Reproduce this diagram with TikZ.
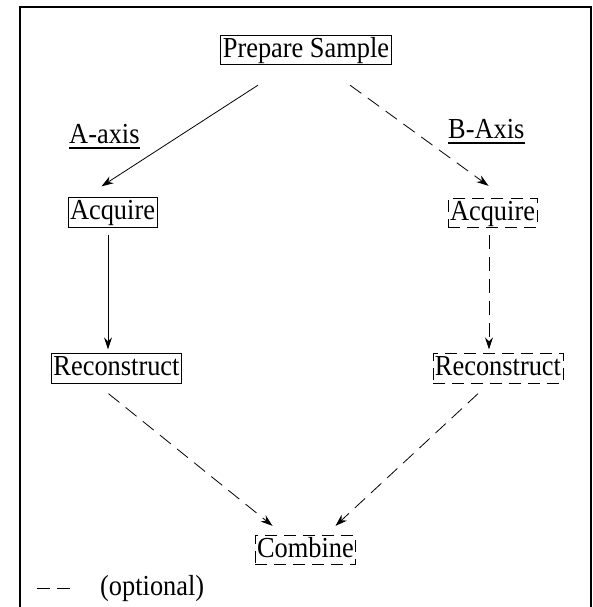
\documentclass[tikz,border=0pt]{standalone}
\usepackage{fontspec}
\setmainfont{Liberation Serif}[FakeStretch=0.91]
\usetikzlibrary{arrows.meta,calc}
\begin{document}
\begin{tikzpicture}[x=1pt,y=-1pt,
  every node/.style={font=\fontsize{29}{33}\selectfont},
  stepbox/.style={draw,line width=0.8pt,inner xsep=2pt,inner ysep=1.5pt,text height=20.5pt,text depth=6pt},
  optbox/.style={stepbox,dash pattern=on 12pt off 7pt},
  conn/.style={line width=0.8pt,-{Stealth[length=12pt,width=8pt]}},
  optconn/.style={conn,dash pattern=on 14pt off 8pt},
  axislabel/.style={inner sep=0pt,anchor=base west}]
\useasboundingbox (0,0) rectangle (593,607);
\draw[line width=1.2pt] (20,610) -- (20,7) -- (591,7) -- (591,610);

\node[stepbox] (prep) at (306,50) {Prepare Sample};
\node[stepbox] (acqA) at (112.5,212.5) {Acquire};
\node[optbox]  (acqB) at (492.5,213) {Acquire};
\node[stepbox] (recA) at (116.5,368.5) {Reconstruct};
\node[optbox]  (recB) at (498,368.5) {Reconstruct};
\node[optbox]  (comb) at (305.5,550) {Combine};

\node[axislabel] (axA) at (69,143) {A-axis};
\node[axislabel] (axB) at (448,138) {B-Axis};
\draw[line width=1.5pt] ($(axA.base west)+(0,5)$) -- ($(axA.base east)+(0,5)$);
\draw[line width=1.5pt] ($(axB.base west)+(0,5)$) -- ($(axB.base east)+(0,5)$);

\draw[conn] ($(prep.south)+(-48,20)$) -- ($(acqA.north)+(-11,-11)$);
\draw[optconn] ($(prep.south)+(44,20)$) -- ($(acqB.north)+(-4,-12)$);
\draw[conn] ($(acqA.south)+(-4.5,7)$) -- ($(recA.north)+(-8.5,-4)$);
\draw[optconn] ($(acqB.south)+(-3.5,7)$) -- ($(recB.north)+(-9,-4)$);
\draw[optconn] ($(recA.south)+(-8,10)$) -- ($(comb.north)+(-33,-9)$);
\draw[optconn] ($(recB.south)+(-20,10)$) -- ($(comb.north)+(30,-9)$);

\draw[line width=0.8pt,dash pattern=on 13pt off 7pt] (37,588) -- (70,588);
\node[axislabel] (legend) at (100,595) {(optional)};
\end{tikzpicture}
\end{document}
